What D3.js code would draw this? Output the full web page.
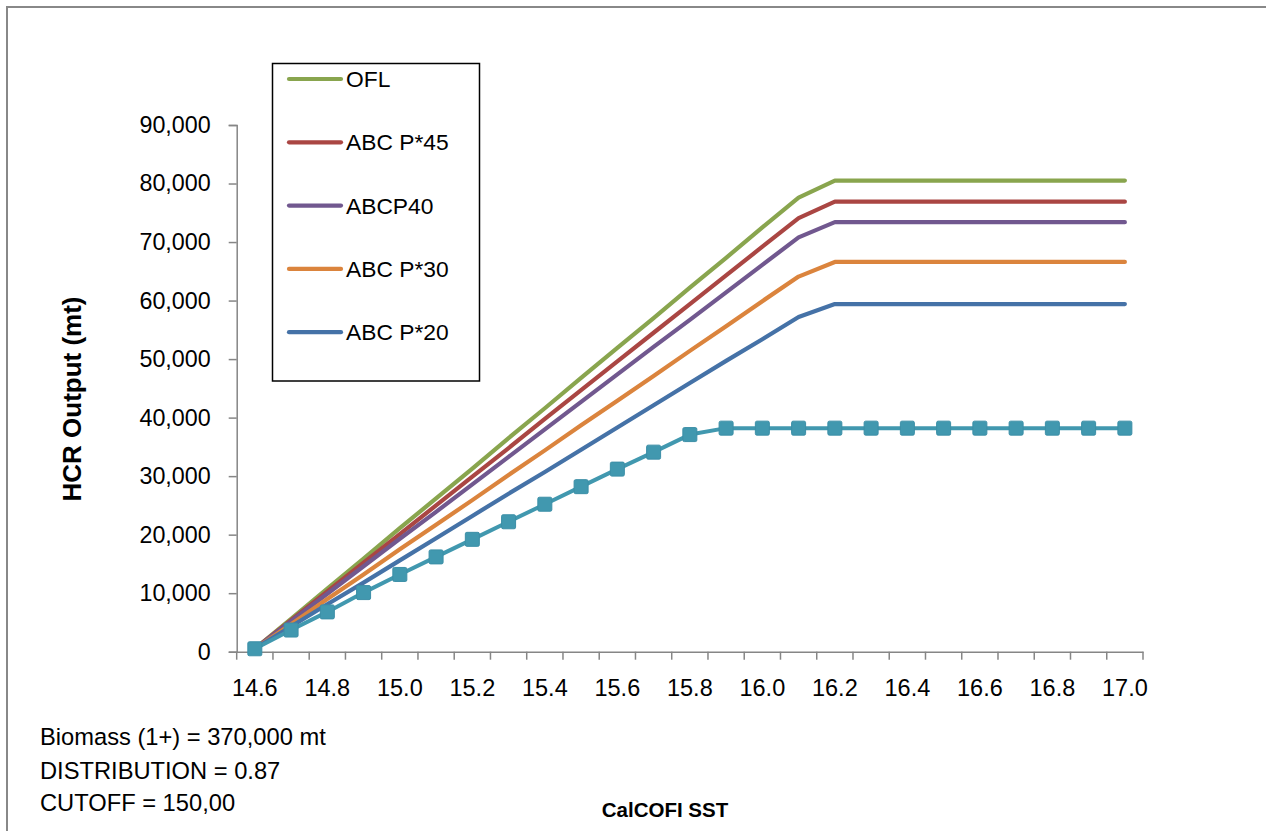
<!DOCTYPE html>
<html>
<head>
<meta charset="utf-8">
<script src="https://cdn.jsdelivr.net/npm/d3@7"></script>
<style>
  html, body { margin: 0; padding: 0; background: #fff; }
  svg { display: block; }
  text { font-family: "Liberation Sans", Arial, sans-serif; fill: #000; }
</style>
</head>
<body>
<svg id="chart" width="1266" height="831"></svg>
<script>
// ---- data ----
const categories = ["14.6","14.7","14.8","14.9","15.0","15.1","15.2","15.3","15.4","15.5","15.6","15.7","15.8","15.9","16.0","16.1","16.2","16.3","16.4","16.5","16.6","16.7","16.8","16.9","17.0"];
const xTickLabels = ["14.6","14.8","15.0","15.2","15.4","15.6","15.8","16.0","16.2","16.4","16.6","16.8","17.0"];
const yTicks = [0,10000,20000,30000,40000,50000,60000,70000,80000,90000];

const ofl    = [500,5600,10800,15900,21100,26200,31300,36500,41600,46800,51900,57000,62200,67300,72500,77600,80500,80500,80500,80500,80500,80500,80500,80500,80500];
const abc45  = [500,5400,10300,15200,20100,25000,29900,34800,39800,44700,49600,54500,59400,64300,69200,74100,76900,76900,76900,76900,76900,76900,76900,76900,76900];
const abc40  = [500,5200,9900,14600,19300,23900,28600,33300,38000,42700,47400,52100,56700,61400,66100,70800,73400,73400,73400,73400,73400,73400,73400,73400,73400];
const abc30  = [500,4700,9000,13200,17500,21700,25900,30200,34400,38700,42900,47100,51400,55600,59900,64100,66600,66600,66600,66600,66600,66600,66600,66600,66600];
const abc20  = [500,4300,8100,11800,15600,19400,23200,27000,30700,34500,38300,42100,45900,49700,53400,57200,59400,59400,59400,59400,59400,59400,59400,59400,59400];
const hcr    = [500,3700,6800,10100,13200,16200,19200,22200,25200,28200,31200,34100,37100,38200,38200,38200,38200,38200,38200,38200,38200,38200,38200,38200,38200];

const legendNames = ["OFL","ABC P*45","ABCP40","ABC P*30","ABC P*20"];
const notes = ["Biomass (1+) = 370,000 mt","DISTRIBUTION = 0.87","CUTOFF = 150,00"];

// ---- drawing ----
const svg = d3.select("#chart");
const colors = ["#89A54E","#AA4643","#71588F","#DB843D","#4572A7"];
const lineSeries = [ofl, abc45, abc40, abc30, abc20];

// outer frame
svg.append("rect").attr("x",7).attr("y",7).attr("width",1300).attr("height",900)
  .attr("fill","none").attr("stroke","#888").attr("stroke-width",2);

const x = d3.scaleBand().domain(categories).range([236.7, 1143]).padding(0);
const y = d3.scaleLinear().domain([0, 90000]).range([651.7, 125]);
const cx = c => x(c) + x.bandwidth()/2;

// y axis
const yAxis = svg.append("g").attr("transform","translate(236.7,0)")
  .call(d3.axisLeft(y).tickValues(yTicks).tickFormat(d3.format(",")).tickSize(8).tickPadding(18));
yAxis.select(".domain").attr("stroke","#868686").attr("stroke-width",1.5);
yAxis.selectAll(".tick line").attr("stroke","#868686").attr("stroke-width",1.5);
yAxis.selectAll(".tick text").style("font-size","23.3px").style("font-family","'Liberation Sans', Arial, sans-serif").attr("fill","#000");

// x axis
const xAxis = svg.append("g").attr("transform","translate(0,651.7)")
  .call(d3.axisBottom(x).tickValues(xTickLabels).tickSize(0).tickPadding(28));
xAxis.select(".domain").attr("stroke","#868686").attr("stroke-width",1.5);
xAxis.selectAll(".tick text").style("font-size","23.5px").style("font-family","'Liberation Sans', Arial, sans-serif").attr("fill","#000");
// tick marks at category boundaries
const boundaries = categories.map(c => x(c)).concat([x(categories[categories.length-1]) + x.bandwidth()]);
xAxis.selectAll("line.bnd").data(boundaries).enter().append("line")
  .attr("class","bnd").attr("x1",d=>d).attr("x2",d=>d).attr("y1",0).attr("y2",8)
  .attr("stroke","#868686").attr("stroke-width",1.5);

// lines
const line = d3.line().x((d,i)=>cx(categories[i])).y(d=>y(d));
const plot = svg.append("g");
lineSeries.forEach((s,k) => {
  plot.append("path").datum(s).attr("d", line).attr("fill","none")
    .attr("stroke", colors[k]).attr("stroke-width",4.2)
    .attr("stroke-linejoin","round").attr("stroke-linecap","round");
});
plot.append("path").datum(hcr).attr("d", line).attr("fill","none")
  .attr("stroke","#4198AF").attr("stroke-width",4).attr("stroke-linejoin","round");
plot.selectAll("rect.mk").data(hcr).enter().append("rect").attr("class","mk")
  .attr("x",(d,i)=>cx(categories[i])-7).attr("y",d=>y(d)-7)
  .attr("width",14).attr("height",14).attr("rx",1.5)
  .attr("fill","#4198AF").attr("stroke","#3C8FA7").attr("stroke-width",1);

// legend
const lg = svg.append("g");
lg.append("rect").attr("x",272.5).attr("y",63.5).attr("width",207).attr("height",317.5)
  .attr("fill","#fff").attr("stroke","#000").attr("stroke-width",1.5);
legendNames.forEach((n,i) => {
  const ly = 79 + i*63.3;
  lg.append("line").attr("x1",289).attr("x2",341).attr("y1",ly).attr("y2",ly)
    .attr("stroke",colors[i]).attr("stroke-width",4.2).attr("stroke-linecap","round");
  lg.append("text").attr("x",346).attr("y",ly).attr("dy","0.35em")
    .style("font-size","22.8px").text(n);
});

// axis titles
svg.append("text").attr("transform","translate(72,399) rotate(-90)")
  .attr("text-anchor","middle").attr("dy","0.35em").style("font-size","26px").style("font-weight","bold")
  .text("HCR Output (mt)");
svg.append("text").attr("x",665).attr("y",810).attr("dy","0.35em")
  .attr("text-anchor","middle").style("font-size","20.5px").style("font-weight","bold")
  .text("CalCOFI SST");

// notes
notes.forEach((t,i) => {
  svg.append("text").attr("x",40).attr("y",[737,771,803][i]).attr("dy","0.35em")
    .style("font-size","23.7px").text(t);
});
</script>
</body>
</html>
